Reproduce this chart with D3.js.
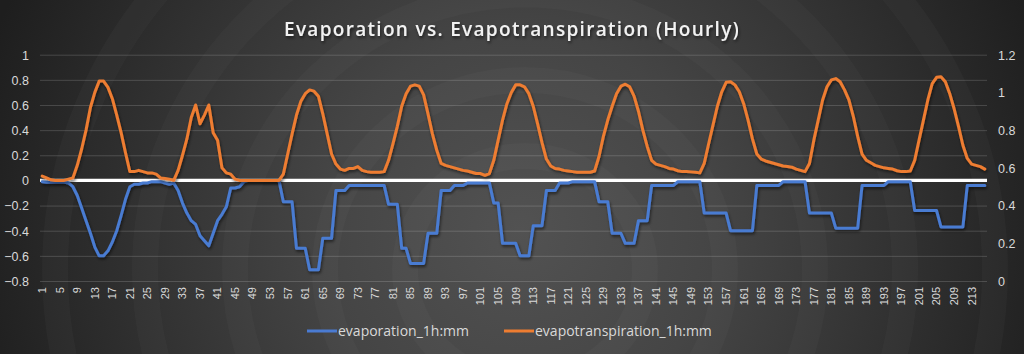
<!DOCTYPE html>
<html lang="en">
<head>
  <meta charset="UTF-8">
  <title>Evaporation vs. Evapotranspiration (Hourly)</title>
  <script src="https://d3js.org/d3.v7.min.js"></script>
  <style>
    body { margin: 0; padding: 0; background: #262626; }
    svg { display: block; font-family: "Open Sans", sans-serif; }
  </style>
</head>
<body>
  <svg id="chart" width="1024" height="354"></svg>

  <script>
    // hourly values, one row per day (24 h)
    const evapotranspiration = [
      0.035,0.02,0.005,0,0,0,0.01,0.02,0.12,0.25,0.4,0.58,0.7,0.79,0.79,0.74,0.65,0.52,0.38,0.22,0.07,0.07,0.08,0.07,
      0.06,0.06,0.05,0.02,0.015,0.01,0,0.08,0.2,0.33,0.5,0.6,0.45,0.52,0.6,0.38,0.32,0.1,0.06,0.05,0.01,0,0,0,
      0,0,0,0,0,0,0,0.05,0.21,0.37,0.52,0.63,0.69,0.72,0.71,0.67,0.53,0.37,0.21,0.13,0.09,0.08,0.095,0.095,
      0.11,0.08,0.07,0.065,0.065,0.065,0.07,0.16,0.29,0.43,0.59,0.69,0.75,0.76,0.75,0.68,0.53,0.37,0.24,0.135,0.12,0.11,0.1,0.09,
      0.08,0.075,0.065,0.055,0.055,0.04,0.055,0.16,0.32,0.48,0.61,0.7,0.76,0.76,0.745,0.69,0.59,0.45,0.3,0.17,0.115,0.095,0.09,0.08,
      0.075,0.07,0.065,0.065,0.065,0.065,0.075,0.19,0.35,0.48,0.59,0.69,0.75,0.765,0.745,0.67,0.55,0.4,0.27,0.16,0.13,0.12,0.11,0.095,
      0.09,0.077,0.07,0.07,0.068,0.065,0.06,0.135,0.29,0.44,0.59,0.705,0.78,0.785,0.76,0.705,0.61,0.48,0.33,0.21,0.17,0.155,0.145,0.135,
      0.125,0.115,0.11,0.105,0.09,0.08,0.07,0.135,0.32,0.48,0.64,0.745,0.8,0.81,0.785,0.72,0.64,0.51,0.35,0.21,0.16,0.14,0.12,0.11,
      0.1,0.095,0.09,0.077,0.07,0.07,0.075,0.16,0.32,0.48,0.64,0.77,0.82,0.825,0.785,0.69,0.57,0.43,0.28,0.175,0.13,0.12,0.11,0.09
    ];
    const evaporation = [
      -0.01,-0.015,-0.015,-0.015,-0.015,-0.015,-0.02,-0.05,-0.12,-0.22,-0.32,-0.42,-0.53,-0.6,-0.6,-0.56,-0.49,-0.4,-0.28,-0.15,-0.05,-0.03,-0.03,-0.02,
      -0.02,-0.01,-0.01,-0.01,-0.02,-0.03,-0.02,-0.08,-0.18,-0.26,-0.32,-0.35,-0.44,-0.48,-0.52,-0.42,-0.32,-0.27,-0.21,-0.06,-0.06,-0.05,-0.01,0,
      0,0,0,0,0,0,0,-0.17,-0.17,-0.17,-0.54,-0.54,-0.54,-0.71,-0.71,-0.71,-0.46,-0.46,-0.46,-0.08,-0.08,-0.08,-0.04,-0.04,
      -0.04,-0.04,-0.04,-0.04,-0.04,-0.04,-0.04,-0.19,-0.19,-0.19,-0.54,-0.54,-0.66,-0.66,-0.66,-0.66,-0.42,-0.42,-0.42,-0.08,-0.08,-0.08,-0.04,-0.04,
      -0.04,-0.02,-0.02,-0.02,-0.02,-0.02,-0.02,-0.18,-0.18,-0.5,-0.5,-0.5,-0.5,-0.6,-0.6,-0.6,-0.36,-0.36,-0.36,-0.08,-0.08,-0.08,-0.02,-0.02,
      -0.02,-0.01,-0.01,-0.01,-0.01,-0.01,-0.01,-0.17,-0.17,-0.17,-0.42,-0.42,-0.42,-0.5,-0.5,-0.5,-0.32,-0.32,-0.32,-0.04,-0.04,-0.04,-0.04,-0.04,
      -0.04,-0.01,-0.01,-0.01,-0.01,-0.01,-0.01,-0.26,-0.26,-0.26,-0.26,-0.26,-0.26,-0.4,-0.4,-0.4,-0.4,-0.4,-0.4,-0.04,-0.04,-0.04,-0.04,-0.04,
      -0.04,-0.01,-0.01,-0.01,-0.01,-0.01,-0.01,-0.26,-0.26,-0.26,-0.26,-0.26,-0.26,-0.38,-0.38,-0.38,-0.38,-0.38,-0.38,-0.04,-0.04,-0.04,-0.04,-0.04,
      -0.04,-0.01,-0.01,-0.01,-0.01,-0.01,-0.01,-0.24,-0.24,-0.24,-0.24,-0.24,-0.24,-0.37,-0.37,-0.37,-0.37,-0.37,-0.37,-0.04,-0.04,-0.04,-0.04,-0.04
    ];
    const hours = d3.range(1, evaporation.length + 1);
    const hourTicks = hours.filter(h => (h - 1) % 4 === 0);
    const leftTicks = [-0.8, -0.6, -0.4, -0.2, 0, 0.2, 0.4, 0.6, 0.8, 1];
    const rightTicks = [0, 0.2, 0.4, 0.6, 0.8, 1, 1.2];
    const seriesNames = ["evaporation_1h:mm", "evapotranspiration_1h:mm"];
    const seriesColors = ["#4a7bd2", "#ee7d31"];

    const W = 1024, H = 354;
    const plot = {left: 40, right: 987, top: 54.7, bottom: 281};
    const svg = d3.select("#chart");
    const defs = svg.append("defs");

    const bg = defs.append("radialGradient").attr("id", "bg")
      .attr("gradientUnits", "userSpaceOnUse")
      .attr("cx", 520).attr("cy", 230).attr("r", 560);
    [[0, "#525252"], [0.35, "#454545"], [0.65, "#333333"], [1, "#1e1e1e"]].forEach(s =>
      bg.append("stop").attr("offset", s[0]).attr("stop-color", s[1]));

    const shadow = defs.append("filter").attr("id", "shadow")
      .attr("x", "-5%").attr("y", "-20%").attr("width", "110%").attr("height", "140%");
    shadow.append("feDropShadow").attr("dx", 1).attr("dy", 2)
      .attr("stdDeviation", 1.5).attr("flood-color", "#000").attr("flood-opacity", 0.55);

    svg.append("rect").attr("width", W).attr("height", H).attr("fill", "url(#bg)");

    // faint rings like the office background texture
    [120, 200, 290, 380, 470].forEach(r => {
      svg.append("ellipse").attr("cx", 525).attr("cy", 270).attr("rx", r).attr("ry", r * 0.95)
        .attr("fill", "none").attr("stroke", "#ffffff").attr("stroke-opacity", 0.025)
        .attr("stroke-width", 26);
    });

    const x = d3.scaleBand().domain(hours).range([plot.left, plot.right]);
    const xc = h => x(h) + x.bandwidth() / 2;
    const y = d3.scaleLinear().domain([-0.8, 1]).range([plot.bottom, plot.top]);
    const y2 = d3.scaleLinear().domain([0, 1.2]).range([plot.bottom, plot.top]);

    // gridlines
    svg.append("g")
      .attr("transform", `translate(${plot.left},0)`)
      .call(d3.axisLeft(y).tickValues(leftTicks).tickSize(-(plot.right - plot.left)).tickFormat(""))
      .call(g => g.select(".domain").remove())
      .call(g => g.selectAll("line").attr("stroke", "#ffffff").attr("stroke-opacity", 0.16));

    // left axis labels
    svg.append("g")
      .attr("transform", `translate(${plot.left - 11},0)`)
      .call(d3.axisLeft(y).tickValues(leftTicks).tickSize(0).tickFormat(d3.format("")))
      .call(g => g.select(".domain").remove())
      .call(g => g.selectAll("text").attr("fill", "#d9d9d9").style("font-size", "12.5px")
        .attr("x", 0).attr("dy", "0.35em"));

    // right axis labels
    svg.append("g")
      .attr("transform", `translate(${plot.right + 11},0)`)
      .call(d3.axisRight(y2).tickValues(rightTicks).tickSize(0).tickFormat(d3.format("")))
      .call(g => g.select(".domain").remove())
      .call(g => g.selectAll("text").attr("fill", "#d9d9d9").style("font-size", "12.5px")
        .attr("x", 0).attr("dy", "0.35em"));

    // category labels
    svg.append("g")
      .attr("transform", `translate(0,${plot.bottom})`)
      .call(d3.axisBottom(x).tickValues(hourTicks).tickSize(0))
      .call(g => g.select(".domain").remove())
      .call(g => g.selectAll("text").attr("fill", "#d9d9d9").style("font-size", "11px")
        .attr("transform", "rotate(-90)").attr("text-anchor", "end")
        .attr("x", -6).attr("y", 0).attr("dy", "0.35em"));

    // zero line
    svg.append("line")
      .attr("x1", plot.left).attr("x2", plot.right)
      .attr("y1", y(0)).attr("y2", y(0))
      .attr("stroke", "#ffffff").attr("stroke-width", 3.2);

    const line = d3.line().x((d, i) => xc(hours[i])).y(d => y(d));
    [evaporation, evapotranspiration].forEach((s, k) => {
      svg.append("path").datum(s)
        .attr("d", line)
        .attr("fill", "none")
        .attr("stroke", seriesColors[k])
        .attr("stroke-width", 3)
        .attr("stroke-linejoin", "round")
        .attr("stroke-linecap", "round")
        .attr("filter", "url(#shadow)");
    });

    // title
    svg.append("text")
      .attr("x", 512).attr("y", 36)
      .attr("text-anchor", "middle")
      .attr("fill", "#f2f2f2")
      .attr("filter", "url(#shadow)")
      .style("font-size", "19px").style("font-weight", 600).style("letter-spacing", "1.3px")
      .text("Evaporation vs. Evapotranspiration (Hourly)");

    // legend
    const legendX = [307, 504];
    seriesNames.forEach((name, k) => {
      const g = svg.append("g").attr("transform", `translate(${legendX[k]},331)`);
      g.append("line").attr("x1", 0).attr("x2", 30)
        .attr("stroke", seriesColors[k]).attr("stroke-width", 3);
      g.append("text").attr("x", 31).attr("dy", "0.35em")
        .attr("fill", "#d9d9d9").style("font-size", "14px")
        .text(name);
    });
  </script>
</body>
</html>
